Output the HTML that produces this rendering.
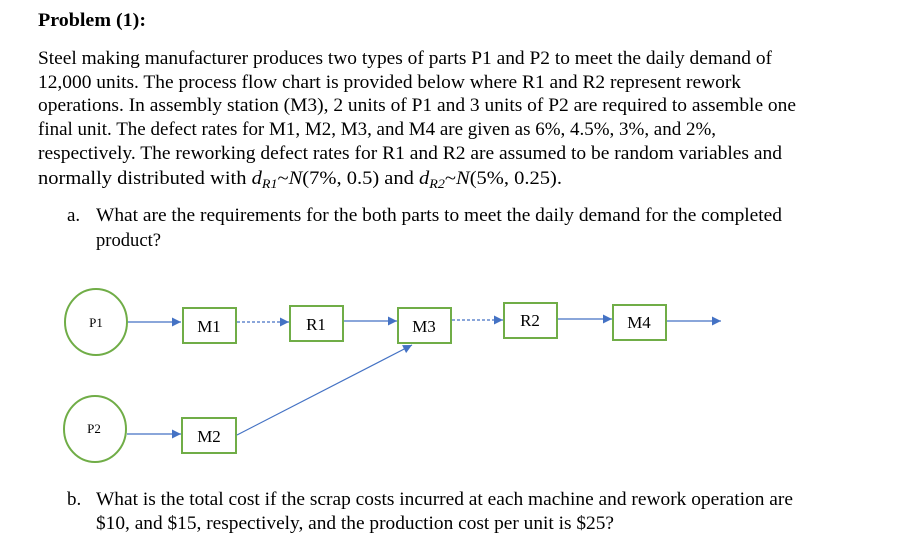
<!DOCTYPE html>
<html><head><meta charset="utf-8"><style>
html,body{margin:0;padding:0;background:#fff;width:901px;height:546px;overflow:hidden}
text{font-family:"Liberation Serif",serif;font-size:19px;fill:#000}
.n{font-size:17px}
.s{font-size:13px}
</style></head><body>
<svg width="901" height="546" viewBox="0 0 901 546" xmlns="http://www.w3.org/2000/svg">
<defs><marker id="a" viewBox="0 0 10 10" refX="10" refY="5" markerWidth="9" markerHeight="9" markerUnits="userSpaceOnUse" orient="auto"><path d="M0,0L10,5L0,10z" fill="#4472c4"/></marker></defs>
<text x="38" y="26" font-weight="bold" textLength="108" lengthAdjust="spacingAndGlyphs">Problem (1):</text>
<text x="38" y="64" textLength="734" lengthAdjust="spacingAndGlyphs">Steel making manufacturer produces two types of parts P1 and P2 to meet the daily demand of</text>
<text x="38" y="88" textLength="703" lengthAdjust="spacingAndGlyphs">12,000 units. The process flow chart is provided below where R1 and R2 represent rework</text>
<text x="38" y="111" textLength="758" lengthAdjust="spacingAndGlyphs">operations. In assembly station (M3), 2 units of P1 and 3 units of P2 are required to assemble one</text>
<text x="38" y="135" textLength="678" lengthAdjust="spacingAndGlyphs">final unit. The defect rates for M1, M2, M3, and M4 are given as 6%, 4.5%, 3%, and 2%,</text>
<text x="38" y="159" textLength="744" lengthAdjust="spacingAndGlyphs">respectively. The reworking defect rates for R1 and R2 are assumed to be random variables and</text>
<text x="38" y="184" textLength="524" lengthAdjust="spacingAndGlyphs">normally distributed with <tspan font-style="italic">d</tspan><tspan font-style="italic" font-size="13" dy="4">R1</tspan><tspan dy="-4">~</tspan><tspan font-style="italic">N</tspan>(7%, 0.5) and <tspan font-style="italic">d</tspan><tspan font-style="italic" font-size="13" dy="4">R2</tspan><tspan dy="-4">~</tspan><tspan font-style="italic">N</tspan>(5%, 0.25).</text>
<text x="67" y="221">a.</text>
<text x="96" y="221" textLength="686" lengthAdjust="spacingAndGlyphs">What are the requirements for the both parts to meet the daily demand for the completed</text>
<text x="96" y="246" textLength="65" lengthAdjust="spacingAndGlyphs">product?</text>
<text x="67" y="505">b.</text>
<text x="96" y="505" textLength="697" lengthAdjust="spacingAndGlyphs">What is the total cost if the scrap costs incurred at each machine and rework operation are</text>
<text x="96" y="529" textLength="518" lengthAdjust="spacingAndGlyphs">$10, and $15, respectively, and the production cost per unit is $25?</text>

<g fill="none" stroke="#70ad47" stroke-width="2">
<ellipse cx="96" cy="322" rx="31" ry="33"/>
<ellipse cx="95" cy="429" rx="31" ry="33"/>
<rect x="183" y="308" width="53" height="35"/>
<rect x="290" y="306" width="53" height="35"/>
<rect x="398" y="308" width="53" height="35"/>
<rect x="504" y="303" width="53" height="35"/>
<rect x="613" y="305" width="53" height="35"/>
<rect x="182" y="418" width="54" height="35"/>
</g>
<g stroke="#4472c4" stroke-width="1.2" fill="none">
<line x1="128" y1="322" x2="181" y2="322" marker-end="url(#a)"/>
<line x1="237" y1="322" x2="289" y2="322" stroke-dasharray="3,2" marker-end="url(#a)"/>
<line x1="344" y1="321" x2="397" y2="321" marker-end="url(#a)"/>
<line x1="452" y1="320" x2="503" y2="320" stroke-dasharray="3,2" marker-end="url(#a)"/>
<line x1="558" y1="319" x2="612" y2="319" marker-end="url(#a)"/>
<line x1="667" y1="321" x2="721" y2="321" marker-end="url(#a)"/>
<line x1="127" y1="434" x2="181" y2="434" marker-end="url(#a)"/>
<line x1="237" y1="435" x2="412" y2="345" marker-end="url(#a)"/>
</g>
<text class="s" x="96" y="327" text-anchor="middle">P1</text>
<text class="s" x="94" y="433" text-anchor="middle">P2</text>
<text class="n" x="209" y="332" text-anchor="middle">M1</text>
<text class="n" x="316" y="330" text-anchor="middle">R1</text>
<text class="n" x="424" y="332" text-anchor="middle">M3</text>
<text class="n" x="530" y="326" text-anchor="middle">R2</text>
<text class="n" x="639" y="328" text-anchor="middle">M4</text>
<text class="n" x="209" y="442" text-anchor="middle">M2</text>
</svg>
</body></html>
